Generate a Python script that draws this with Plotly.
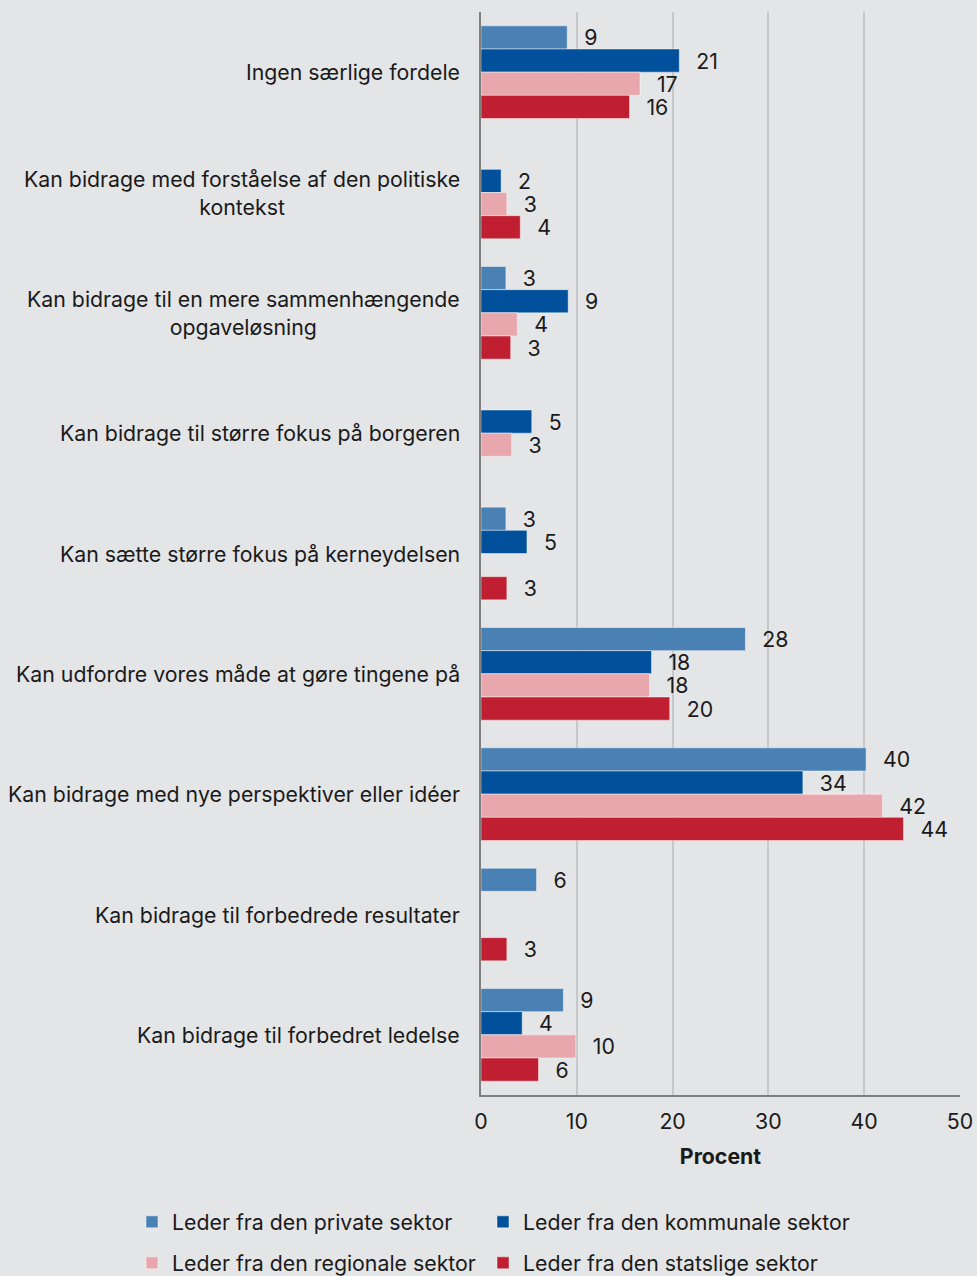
import plotly.graph_objects as go

categories = [
    "Ingen særlige fordele",
    "Kan bidrage med forståelse af den politiske<br>kontekst",
    "Kan bidrage til en mere sammenhængende<br>opgaveløsning",
    "Kan bidrage til større fokus på borgeren",
    "Kan sætte større fokus på kerneydelsen",
    "Kan udfordre vores måde at gøre tingene på",
    "Kan bidrage med nye perspektiver eller idéer",
    "Kan bidrage til forbedrede resultater",
    "Kan bidrage til forbedret ledelse",
]

series_names = [
    "Leder fra den private sektor",
    "Leder fra den kommunale sektor",
    "Leder fra den regionale sektor",
    "Leder fra den statslige sektor",
]

private = [9.0, None, 2.6, None, 2.6, 27.6, 40.2, 5.8, 8.6]
kommunal = [20.7, 2.1, 9.1, 5.3, 4.8, 17.8, 33.6, None, 4.3]
regional = [16.6, 2.7, 3.8, 3.2, None, 17.6, 41.9, None, 9.9]
statslig = [15.5, 4.1, 3.1, None, 2.7, 19.7, 44.1, 2.7, 6.0]

x_ticks = [0, 10, 20, 30, 40, 50]

colors = ["#4a81b4", "#00509b", "#e8a7ad", "#c01f31"]
FONT = "Inter, Roboto, sans-serif"
TXT = "#1a1a1a"
FS = 21.3
BG = "#e4e5e7"

# one legend per entry so the 2x2 grid sits where the original has it
legend_pos = [(132, 1222), (483, 1222), (132, 1263), (483, 1263)]
legend_ids = ["legend", "legend2", "legend3", "legend4"]

fig = go.Figure()
for i, (name, vals, col) in enumerate(zip(series_names, [private, kommunal, regional, statslig], colors)):
    fig.add_bar(
        y=categories,
        x=vals,
        name=name,
        orientation="h",
        marker={"color": col, "line": {"color": "rgba(255,255,255,0.45)", "width": 1}},
        texttemplate="\u00a0\u00a0\u200a%{x:.0f}",
        textposition="outside",
        constraintext="none",
        cliponaxis=False,
        textfont={"size": FS, "color": TXT, "family": FONT},
        legend=legend_ids[i],
        showlegend=True,
        hoverinfo="skip",
    )

# category labels as annotations so wrapped lines stay centred
for cat in categories:
    fig.add_annotation(
        x=0, y=cat, xref="x", yref="y",
        text=cat, showarrow=False,
        xanchor="right", yanchor="middle", align="center",
        xshift=-19,
        font={"size": FS, "color": TXT, "family": FONT},
    )

legends = {}
for lid, (lx, ly) in zip(legend_ids, legend_pos):
    legends[lid] = {
        "orientation": "h",
        "xref": "container",
        "yref": "container",
        "x": lx / 977,
        "y": 1 - ly / 1276,
        "xanchor": "left",
        "yanchor": "middle",
        "font": {"size": FS},
        "itemwidth": 30,
        "bgcolor": "rgba(0,0,0,0)",
    }

fig.update_layout(
    width=977,
    height=1276,
    showlegend=True,
    paper_bgcolor=BG,
    plot_bgcolor=BG,
    font={"family": FONT, "color": TXT, "size": FS},
    barmode="group",
    bargap=0.23,
    bargroupgap=0,
    margin={"l": 481, "r": 17, "t": 12, "b": 181, "autoexpand": False},
    xaxis={
        "range": [0, 50],
        "tickvals": x_ticks,
        "showgrid": True,
        "gridcolor": "#c6c7c9",
        "gridwidth": 2,
        "zeroline": False,
        "showline": True,
        "linecolor": "#7f7f7f",
        "linewidth": 2,
        "ticks": "",
        "ticklabelstandoff": 6,
        "tickfont": {"size": FS},
        "title": {"text": "<b>Procent</b>", "font": {"size": FS}, "standoff": 17},
    },
    yaxis={
        "autorange": "reversed",
        "showticklabels": False,
        "showgrid": False,
        "showline": True,
        "linecolor": "#7f7f7f",
        "linewidth": 2,
        "ticks": "",
    },
    **legends,
)

fig.write_html(
    "out.html",
    config={"displayModeBar": False},
    post_script="document.body.style.margin='0';document.body.style.background='%s';" % BG,
)
